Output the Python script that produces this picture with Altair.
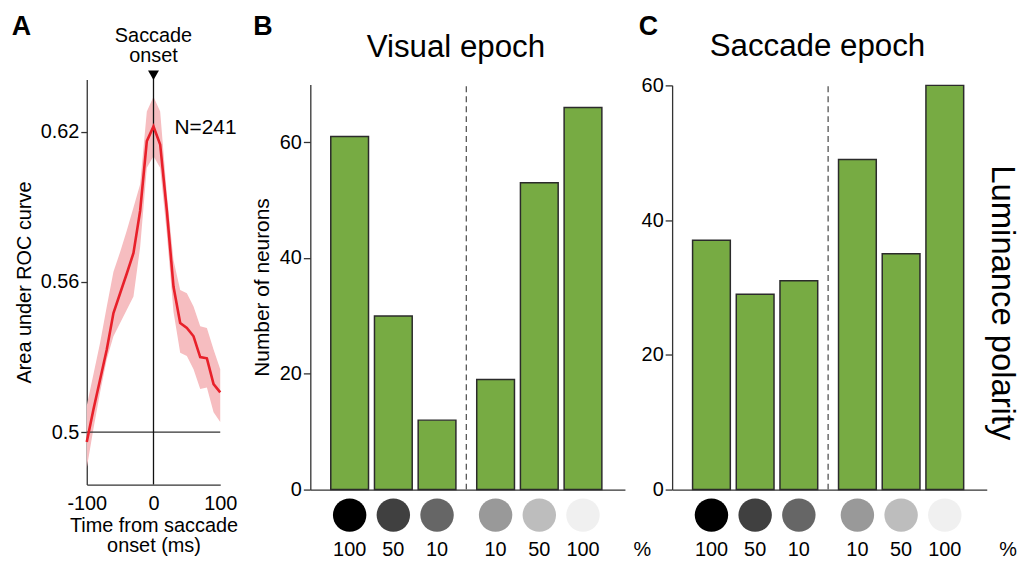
import altair as alt
import pandas as pd

# ---------------- data ----------------
# Panel A: area under ROC curve around saccade onset
time_ms = [-100, -90, -80, -70, -60, -50, -40, -30, -20, -10, 0,
           10, 20, 30, 40, 50, 60, 70, 80, 90, 100]
auc_mean = [0.496, 0.509, 0.521, 0.533, 0.5476, 0.5555, 0.5634, 0.5716, 0.5885, 0.6163, 0.6222,
            0.615, 0.5885, 0.5581, 0.5436, 0.5416, 0.5383, 0.530, 0.5295, 0.5192, 0.5159]
auc_upper = [0.5105, 0.5231, 0.5357, 0.5502, 0.5641, 0.572, 0.5806, 0.5898, 0.5991, 0.6282, 0.6341,
             0.6282, 0.5952, 0.5687, 0.5568, 0.5555, 0.5502, 0.5423, 0.5416, 0.533, 0.5251]
auc_lower = [0.4855, 0.5013, 0.5159, 0.5291, 0.5383, 0.5436, 0.5489, 0.5542, 0.574, 0.6057, 0.6103,
             0.6057, 0.5793, 0.548, 0.5317, 0.5304, 0.5251, 0.5172, 0.5178, 0.5079, 0.504]
n_label = ["N=241"]
onset_label = ["Saccade", "onset"]

# Panels B and C: number of neurons per luminance polarity / contrast
polarity = ["dark", "dark", "dark", "light", "light", "light"]
contrast = ["100", "50", "10", "10", "50", "100"]
visual_counts = [61, 30, 12, 19, 53, 66]
saccade_counts = [37, 29, 31, 49, 35, 60]

# ---------------- styles / layout ----------------
FONT = "Liberation Sans"
AX = "#333333"
GREEN = "#77ab43"
SHADES = ["#000000", "#404040", "#666666", "#999999", "#bdbdbd", "#f0f0f0"]
W, H = 1022, 554
PAGE = 8
GROUP_GAP = 0.34


def cx(p):
    return p - PAGE


def cy(p):
    return p - PAGE


dfA = pd.DataFrame({"time": time_ms, "mean": auc_mean, "upper": auc_upper, "lower": auc_lower})

slot = [i + (GROUP_GAP if p == "light" else 0.0) for i, p in enumerate(polarity)]
shade_key = [f"{p}{c}" for p, c in zip(polarity, contrast)]
sep_pos = (max(s for s, p in zip(slot, polarity) if p == "dark") +
           min(s for s, p in zip(slot, polarity) if p == "light")) / 2


def one(**kw):
    return pd.DataFrame({k: [v] for k, v in kw.items()})


# ---------------- Panel A ----------------
a_x = alt.Scale(domain=[-100, 100], range=[cx(87.3), cx(221.7)], nice=False, zero=False, padding=0)
a_y = alt.Scale(domain=[0.479, 0.641], range=[cy(486), cy(78)], nice=False, zero=False, padding=0)

a_band = alt.Chart(dfA).mark_area(color="#f6bdc0", opacity=1).encode(
    x=alt.X("time:Q", scale=a_x,
            axis=alt.Axis(orient="bottom", offset=cy(486) - H, values=[-100, 0, 100],
                          labelExpr="'' + datum.value",
                          ticks=False, labelPadding=9, labelFlush=False, labelFontSize=20,
                          title=["Time from saccade", "onset (ms)"], titleFontSize=20,
                          titlePadding=2, titleLineHeight=20)),
    y=alt.Y("lower:Q", scale=a_y,
            axis=alt.Axis(orient="left", offset=-cx(87.3), values=[0.5, 0.56, 0.62], format="~g",
                          tickSize=6, labelPadding=2, labelFontSize=20,
                          title="Area under ROC curve", titleFontSize=20, titlePadding=6)),
    y2="upper:Q",
)
a_hline = alt.Chart(one(v=0)).mark_rule(color=AX, strokeWidth=1.3).encode(
    x=alt.XDatum(-100, scale=a_x), x2=alt.X2Datum(100),
    y=alt.YDatum(0.5, scale=a_y))
a_vline = alt.Chart(one(v=0)).mark_rule(color="#111111", strokeWidth=1.3).encode(
    x=alt.XDatum(0, scale=a_x),
    y=alt.YDatum(0.479, scale=a_y), y2=alt.Y2Datum(0.6427))
a_line = alt.Chart(dfA).mark_line(color="#e8202a", strokeWidth=2.6).encode(
    x=alt.X("time:Q", scale=a_x), y=alt.Y("mean:Q", scale=a_y))
a_tri = alt.Chart(one(v=0)).mark_point(shape="triangle-down", filled=True, size=121,
                                        color="#000000", opacity=1).encode(
    x=alt.XDatum(0, scale=a_x), y=alt.YDatum(0.6427, scale=a_y))
a_onset = alt.Chart(one(v=0)).mark_text(text=onset_label, fontSize=20, lineHeight=20,
                                         align="center", baseline="alphabetic").encode(
    x=alt.XDatum(0, scale=a_x), y=alt.YDatum(0.656, scale=a_y))
a_n = alt.Chart(one(label=n_label[0])).mark_text(fontSize=21, align="left", baseline="alphabetic").encode(
    x=alt.XDatum(31.5, scale=a_x), y=alt.YDatum(0.619, scale=a_y),
    text="label:N")
a_letter = alt.Chart(one(label="A")).mark_text(fontSize=27, fontWeight="bold", align="left",
                                                baseline="alphabetic").encode(
    x=alt.value(cx(11.7)), y=alt.value(cy(33)), text="label:N")

panelA = alt.layer(a_band, a_hline, a_vline, a_line, a_tri, a_onset, a_n, a_letter)


# ---------------- Panels B and C ----------------
def bar_panel(counts, ymax, x_left_page, y_top_page, letter, letter_x, title, title_x,
              title_y, ytitle, pct_pos, extra=None):
    df = pd.DataFrame({"pos": slot, "count": counts, "contrast": contrast,
                       "shade": shade_key, "polarity": polarity})
    unit = 44.0
    zero_page = x_left_page + 0.9 * unit
    xs = alt.Scale(domain=[-0.9, 6.3], range=[cx(x_left_page), cx(zero_page + 6.3 * unit)],
                   nice=False, zero=False, padding=0)
    ys = alt.Scale(domain=[0, ymax], range=[cy(491), cy(y_top_page)], nice=False, zero=True,
                   padding=0)
    yaxis_kw = dict(orient="left", offset=-cx(x_left_page), values=[0, 20, 40, 60],
                    tickSize=7, labelPadding=2, labelFontSize=20)
    if ytitle:
        yaxis_kw.update(title=ytitle, titleFontSize=21, titlePadding=7)
    else:
        yaxis_kw.update(title=None)
    bars = alt.Chart(df).mark_bar(orient="vertical", size=38, fill=GREEN, stroke="#2b2b2b",
                                  strokeWidth=1.5).encode(
        x=alt.X("pos:Q", scale=xs,
                axis=alt.Axis(orient="bottom", offset=cy(491) - H, labels=False, ticks=False,
                              title=None)),
        y=alt.Y("count:Q", scale=ys, axis=alt.Axis(**yaxis_kw)),
    )
    sep = alt.Chart(one(v=0)).mark_rule(color="#555555", strokeWidth=1.3, strokeDash=[6, 4]).encode(
        x=alt.XDatum(sep_pos, scale=xs),
        y=alt.YDatum(0, scale=ys), y2=alt.Y2Datum(ymax))
    circles = alt.Chart(df).mark_circle(size=1134, opacity=1).encode(
        x=alt.X("pos:Q", scale=xs),
        y=alt.value(cy(516.7)),
        color=alt.Color("shade:N", scale=alt.Scale(domain=shade_key, range=SHADES), legend=None),
    )
    labels = alt.Chart(df).mark_text(fontSize=20, baseline="middle").encode(
        x=alt.X("pos:Q", scale=xs), y=alt.value(cy(552)), text="contrast:N")
    pct = alt.Chart(one(label="%")).mark_text(fontSize=20, baseline="middle").encode(
        x=alt.XDatum(pct_pos, scale=xs), y=alt.value(cy(552)), text="label:N")
    ttl = alt.Chart(one(label=title)).mark_text(fontSize=31.5, align="center", baseline="alphabetic").encode(
        x=alt.value(cx(title_x)), y=alt.value(cy(title_y)), text="label:N")
    let = alt.Chart(one(label=letter)).mark_text(fontSize=27, fontWeight="bold", align="left",
                                                 baseline="alphabetic").encode(
        x=alt.value(cx(letter_x)), y=alt.value(cy(33)), text="label:N")
    layers = [bars, sep, circles, labels, pct, ttl, let]
    if extra is not None:
        layers.append(extra)
    return alt.layer(*layers)


side = alt.Chart(one(label="Luminance polarity")).mark_text(
    fontSize=33, angle=90, align="center", baseline="alphabetic").encode(
    x=alt.value(cx(999)), y=alt.value(cy(303)), text="label:N")

panelB = bar_panel(visual_counts, 70, 312.4, 83, "B", 255, "Visual epoch", 459, 55,
                   "Number of neurons", 6.7)
panelC = bar_panel(saccade_counts, 60, 676.7, 84, "C", 643, "Saccade epoch", 823, 54.5,
                   None, 6.79, extra=side)

chart = alt.layer(panelA, panelB, panelC).resolve_scale(
    x="independent", y="independent"
).properties(
    width=W, height=H, padding=0, autosize=alt.AutoSizeParams(type="none")
).configure(
    font=FONT
).configure_view(
    stroke=None
).configure_axis(
    grid=False, domainColor=AX, tickColor=AX, domainWidth=1.3, tickWidth=1.3,
    labelColor="#000000", titleColor="#000000", labelFont=FONT, titleFont=FONT,
    titleFontWeight="normal", labelOverlap=False
)

chart.save("out.html", embed_options={"renderer": "svg", "actions": False})
